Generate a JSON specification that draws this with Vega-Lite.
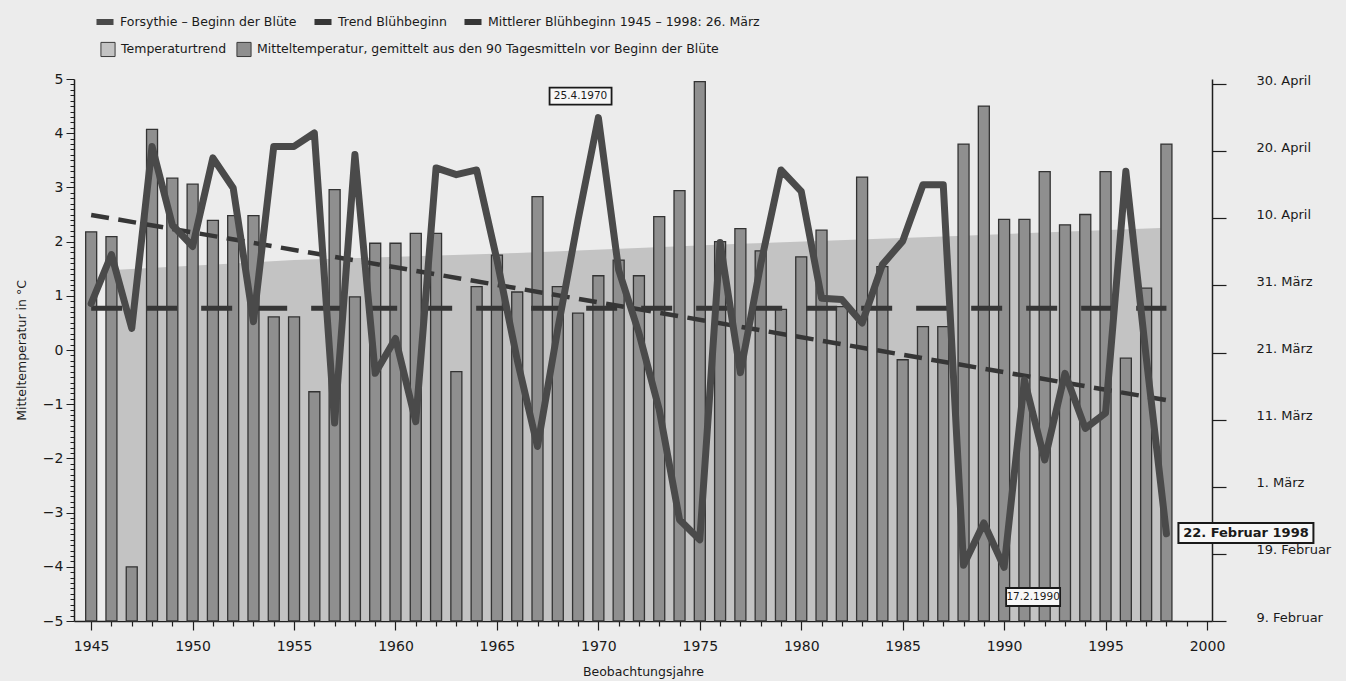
{
  "$schema": "https://vega.github.io/schema/vega-lite/v6.json",
  "width": 1138,
  "height": 542,
  "autosize": {"type": "none"},
  "padding": {"left": 74, "top": 79, "right": 134, "bottom": 60},
  "background": "#ececec",
  "config": {
    "view": {"stroke": null},
    "font": "DejaVu Sans",
    "legend": {"padding": 0},
    "axis": {"labelOverlap": false}
  },
  "datasets": {
    "jahre": [
      {"year": 1945, "temp": 2.18, "bloom": 87.3},
      {"year": 1946, "temp": 2.09, "bloom": 94.6},
      {"year": 1947, "temp": -4.0, "bloom": 83.6},
      {"year": 1948, "temp": 4.07, "bloom": 110.7},
      {"year": 1949, "temp": 3.17, "bloom": 99.0},
      {"year": 1950, "temp": 3.06, "bloom": 95.8},
      {"year": 1951, "temp": 2.39, "bloom": 109.0},
      {"year": 1952, "temp": 2.48, "bloom": 104.5},
      {"year": 1953, "temp": 2.48, "bloom": 84.6},
      {"year": 1954, "temp": 0.61, "bloom": 110.7},
      {"year": 1955, "temp": 0.61, "bloom": 110.7},
      {"year": 1956, "temp": -0.77, "bloom": 112.7},
      {"year": 1957, "temp": 2.96, "bloom": 69.5},
      {"year": 1958, "temp": 0.98, "bloom": 109.5},
      {"year": 1959, "temp": 1.97, "bloom": 76.9},
      {"year": 1960, "temp": 1.97, "bloom": 82.1},
      {"year": 1961, "temp": 2.15, "bloom": 69.7},
      {"year": 1962, "temp": 2.15, "bloom": 107.5},
      {"year": 1963, "temp": -0.4, "bloom": 106.5},
      {"year": 1964, "temp": 1.17, "bloom": 107.2},
      {"year": 1965, "temp": 1.75, "bloom": 93.8},
      {"year": 1966, "temp": 1.07, "bloom": 78.9},
      {"year": 1967, "temp": 2.83, "bloom": 66.0},
      {"year": 1968, "temp": 1.17, "bloom": 83.5},
      {"year": 1969, "temp": 0.68, "bloom": 99.8},
      {"year": 1970, "temp": 1.37, "bloom": 115.0},
      {"year": 1971, "temp": 1.66, "bloom": 92.3},
      {"year": 1972, "temp": 1.37, "bloom": 82.9},
      {"year": 1973, "temp": 2.46, "bloom": 71.5},
      {"year": 1974, "temp": 2.94, "bloom": 55.1},
      {"year": 1975, "temp": 4.95, "bloom": 52.1},
      {"year": 1976, "temp": 2.0, "bloom": 96.4},
      {"year": 1977, "temp": 2.24, "bloom": 77.0},
      {"year": 1978, "temp": 1.83, "bloom": 93.1},
      {"year": 1979, "temp": 0.75, "bloom": 107.2},
      {"year": 1980, "temp": 1.72, "bloom": 104.0},
      {"year": 1981, "temp": 2.21, "bloom": 88.1},
      {"year": 1982, "temp": 0.8, "bloom": 87.9},
      {"year": 1983, "temp": 3.19, "bloom": 84.4},
      {"year": 1984, "temp": 1.54, "bloom": 93.1},
      {"year": 1985, "temp": -0.18, "bloom": 96.6},
      {"year": 1986, "temp": 0.43, "bloom": 105.0},
      {"year": 1987, "temp": 0.43, "bloom": 105.0},
      {"year": 1988, "temp": 3.8, "bloom": 48.3},
      {"year": 1989, "temp": 4.5, "bloom": 54.6},
      {"year": 1990, "temp": 2.41, "bloom": 48.0},
      {"year": 1991, "temp": 2.41, "bloom": 75.9},
      {"year": 1992, "temp": 3.29, "bloom": 64.0},
      {"year": 1993, "temp": 2.31, "bloom": 76.9},
      {"year": 1994, "temp": 2.5, "bloom": 68.7},
      {"year": 1995, "temp": 3.29, "bloom": 71.0},
      {"year": 1996, "temp": -0.15, "bloom": 107.0},
      {"year": 1997, "temp": 1.14, "bloom": 79.4},
      {"year": 1998, "temp": 3.8, "bloom": 53.0}
    ],
    "temperaturtrend": [
      {"year": 1946.3, "temptrend": 1.48},
      {"year": 1955, "temptrend": 1.66},
      {"year": 1966, "temptrend": 1.79},
      {"year": 1977, "temptrend": 1.96},
      {"year": 1988, "temptrend": 2.11},
      {"year": 1997.7, "temptrend": 2.25}
    ],
    "bluehtrend": [
      {"year": 1945, "bloom": 100.5},
      {"year": 1998, "bloom": 72.9}
    ],
    "mittel": [
      {"year": 1945, "bloom": 86.6},
      {"year": 1998, "bloom": 86.6}
    ],
    "marken": [
      {"year": 1970, "bloom": 115.0, "label": "25.4.1970"},
      {"year": 1990, "bloom": 48.0, "label": "17.2.1990"},
      {"year": 1998, "bloom": 53.0, "label": "22. Februar 1998"}
    ]
  },
  "encoding": {
    "x": {
      "field": "year", "type": "quantitative", "title": "Beobachtungsjahre",
      "scale": {"domain": [1944.4, 2000], "nice": false, "zero": false},
      "axis": {
        "values": [1945,1946,1947,1948,1949,1950,1951,1952,1953,1954,1955,1956,1957,1958,1959,1960,1961,1962,1963,1964,1965,1966,1967,1968,1969,1970,1971,1972,1973,1974,1975,1976,1977,1978,1979,1980,1981,1982,1983,1984,1985,1986,1987,1988,1989,1990,1991,1992,1993,1994,1995,1996,1997,1998,1999,2000],
        "labelExpr": "datum.value % 5 == 0 ? format(datum.value, 'd') : ''",
        "tickSize": {"condition": {"test": "datum.value % 5 == 0", "value": 9}, "value": 5},
        "labelFontSize": 14, "labelPadding": 9, "labelColor": "#1a1a1a",
        "labelOverlap": false, "labelFlush": false, "labelBound": false,
        "domainColor": "#1e1e1e", "domainWidth": 1.5, "tickColor": "#1e1e1e", "tickWidth": 1.2,
        "grid": false,
        "titleFontSize": 12.5, "titleFontWeight": "normal", "titleColor": "#1a1a1a", "titlePadding": 12
      }
    }
  },
  "layer": [
    {
      "layer": [
        {
          "data": {"name": "temperaturtrend"},
          "mark": {"type": "area", "opacity": 1},
          "encoding": {
            "y": {
              "field": "temptrend", "type": "quantitative", "title": "Mitteltemperatur in °C",
              "scale": {"domain": [-5, 5], "nice": false, "zero": false},
              "axis": {
                "orient": "left",
                "tickCount": 100,
                "labelExpr": "abs(datum.value - round(datum.value)) < 0.001 ? format(datum.value, 'd') : ''",
                "tickSize": {"condition": {"test": "abs(datum.value - round(datum.value)) < 0.001", "value": 8}, "value": 4},
                "labelFontSize": 14, "labelPadding": 3, "labelColor": "#1a1a1a",
                "labelOverlap": false, "labelFlush": false, "labelBound": false,
                "domainColor": "#1e1e1e", "domainWidth": 1.5, "tickColor": "#1e1e1e", "tickWidth": 1,
                "grid": false,
                "titleFontSize": 12.5, "titleFontWeight": "normal", "titleColor": "#1a1a1a", "titlePadding": 14
              }
            },
            "y2": {"datum": -5},
            "fill": {
              "datum": "Temperaturtrend", "type": "nominal",
              "scale": {
                "domain": ["Temperaturtrend", "Mitteltemperatur, gemittelt aus den 90 Tagesmitteln vor Beginn der Blüte"],
                "range": ["#c3c3c3", "#8f8f8f"]
              },
              "legend": {
                "orient": "none", "legendX": 26, "legendY": -38,
                "direction": "horizontal", "title": null,
                "symbolType": "square", "symbolSize": 200,
                "symbolStrokeColor": "#3a3a3a", "symbolStrokeWidth": 1,
                "labelFontSize": 12.5, "labelColor": "#1a1a1a", "labelLimit": 800,
                "labelOffset": 5, "columnPadding": 7
              }
            }
          }
        },
        {
          "data": {"name": "jahre"},
          "mark": {"type": "bar", "size": 11, "stroke": "#333333", "strokeWidth": 1.3},
          "encoding": {
            "y": {"field": "temp", "type": "quantitative", "title": "Mitteltemperatur in °C"},
            "y2": {"datum": -5},
            "fill": {"datum": "Mitteltemperatur, gemittelt aus den 90 Tagesmitteln vor Beginn der Blüte", "type": "nominal"}
          }
        }
      ]
    },
    {
      "layer": [
        {
          "data": {"name": "mittel"},
          "mark": {"type": "line", "strokeWidth": 5, "strokeDash": [31, 24]},
          "encoding": {
            "y": {
              "field": "bloom", "type": "quantitative", "title": null,
              "scale": {"domain": [40, 120.75], "nice": false, "zero": false},
              "axis": {
                "orient": "right",
                "values": [40, 50, 60, 70, 80, 90, 100, 110, 120],
                "labelExpr": "['\u20079. Februar', '19. Februar', '1. März', '11. März', '21. März', '31. März', '10. April', '20. April', '30. April'][round((datum.value - 40) / 10)]",
                "tickSize": 14, "labelPadding": 30, "labelAlign": "left", "labelOffset": -4,
                "labelFontSize": 13, "labelColor": "#1a1a1a",
                "labelOverlap": false, "labelFlush": false, "labelBound": false,
                "domainColor": "#1e1e1e", "domainWidth": 1.5, "tickColor": "#1e1e1e", "tickWidth": 1.2,
                "grid": false
              }
            },
            "stroke": {
              "datum": "Mittlerer Blühbeginn 1945 – 1998: 26. März", "type": "nominal",
              "scale": {
                "domain": ["Forsythie – Beginn der Blüte", "Trend Blühbeginn", "Mittlerer Blühbeginn 1945 – 1998: 26. März"],
                "range": ["#4a4a4a", "#363636", "#363636"]
              },
              "legend": {
                "orient": "none", "legendX": 19, "legendY": -69,
                "direction": "horizontal", "title": null,
                "symbolType": "stroke", "symbolSize": 290, "symbolStrokeWidth": 6, "symbolDash": [1, 0],
                "labelFontSize": 12.5, "labelColor": "#1a1a1a", "labelLimit": 800,
                "labelOffset": 3, "columnPadding": 5
              }
            }
          }
        },
        {
          "data": {"name": "bluehtrend"},
          "mark": {"type": "line", "strokeWidth": 4.5, "strokeDash": [18, 9.5]},
          "encoding": {
            "y": {"field": "bloom", "type": "quantitative", "title": null},
            "stroke": {"datum": "Trend Blühbeginn", "type": "nominal"}
          }
        },
        {
          "data": {"name": "jahre"},
          "mark": {"type": "line", "strokeWidth": 7, "strokeJoin": "round", "strokeCap": "round"},
          "encoding": {
            "y": {"field": "bloom", "type": "quantitative", "title": null},
            "stroke": {"datum": "Forsythie – Beginn der Blüte", "type": "nominal"}
          }
        },
        {
          "data": {"name": "marken"},
          "transform": [{"filter": "datum.label == '25.4.1970'"}],
          "mark": {"type": "point", "shape": "M-4.88,-2.99H1.32V-1.29H-4.88Z", "size": 400, "filled": true, "fill": "#f7f7f7", "stroke": "#1a1a1a", "strokeWidth": 1.8, "opacity": 1},
          "encoding": {
            "y": {"field": "bloom", "type": "quantitative", "title": null}
          }
        },
        {
          "data": {"name": "marken"},
          "transform": [{"filter": "datum.label == '25.4.1970'"}],
          "mark": {"type": "text", "dx": -17.8, "dy": -21.2, "fontSize": 10.5, "align": "center", "baseline": "middle", "color": "#1a1a1a"},
          "encoding": {
            "y": {"field": "bloom", "type": "quantitative", "title": null},
            "text": {"field": "label"}
          }
        },
        {
          "data": {"name": "marken"},
          "transform": [{"filter": "datum.label == '17.2.1990'"}],
          "mark": {"type": "point", "shape": "M0.2,2.07H5.6V3.87H0.2Z", "size": 400, "filled": true, "fill": "#f7f7f7", "stroke": "#1a1a1a", "strokeWidth": 1.8, "opacity": 1},
          "encoding": {
            "y": {"field": "bloom", "type": "quantitative", "title": null}
          }
        },
        {
          "data": {"name": "marken"},
          "transform": [{"filter": "datum.label == '17.2.1990'"}],
          "mark": {"type": "text", "dx": 29, "dy": 29.7, "fontSize": 10.5, "align": "center", "baseline": "middle", "color": "#1a1a1a"},
          "encoding": {
            "y": {"field": "bloom", "type": "quantitative", "title": null},
            "text": {"field": "label"}
          }
        },
        {
          "data": {"name": "marken"},
          "transform": [{"filter": "datum.label == '22. Februar 1998'"}],
          "mark": {"type": "point", "shape": "M1.2,-1.08H14.7V0.92H1.2Z", "size": 400, "filled": true, "fill": "#f7f7f7", "stroke": "#1a1a1a", "strokeWidth": 2, "opacity": 1},
          "encoding": {
            "y": {"field": "bloom", "type": "quantitative", "title": null}
          }
        },
        {
          "data": {"name": "marken"},
          "transform": [{"filter": "datum.label == '22. Februar 1998'"}],
          "mark": {"type": "text", "dx": 79.5, "dy": -0.8, "fontSize": 13, "fontWeight": "bold", "align": "center", "baseline": "middle", "color": "#1a1a1a"},
          "encoding": {
            "y": {"field": "bloom", "type": "quantitative", "title": null},
            "text": {"field": "label"}
          }
        }
      ]
    }
  ],
  "resolve": {"scale": {"y": "independent"}}
}
